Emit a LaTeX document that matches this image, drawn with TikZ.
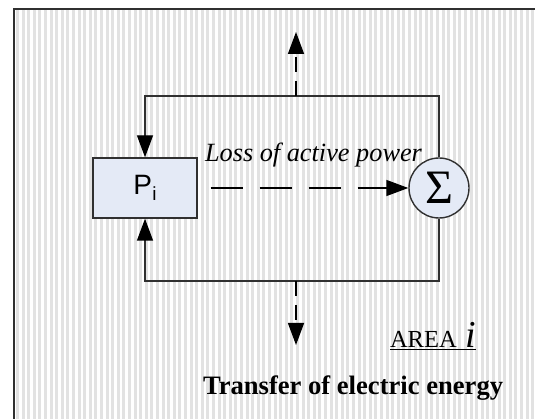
\documentclass[tikz,border=0pt]{standalone}
\usepackage{fontspec}
\setmainfont{Liberation Serif}
\newfontfamily\arialfont{Liberation Sans}
\usetikzlibrary{arrows.meta}
\definecolor{stripegray}{HTML}{E2E2E2}
\definecolor{boxfill}{HTML}{E4EAF6}
\definecolor{linegray}{HTML}{303030}
\begin{document}
\begin{tikzpicture}[x=1pt,y=-1pt,
  conn/.style={draw=linegray, line width=1.4pt},
  tipA/.style={-{Triangle[length=22pt,width=16pt,color=black,fill=black]}},
  dashA/.style={dash pattern=on 15pt off 9pt},
  dashB/.style={dash pattern=on 32pt off 17pt},
  blockbox/.style={draw=linegray, line width=1.4pt, fill=boxfill, rectangle, minimum width=104pt, minimum height=60pt, inner sep=0pt},
  sumcirc/.style={draw=linegray, line width=1.4pt, fill=boxfill, circle, minimum size=60pt, inner sep=0pt},
  lbl/.style={inner sep=0pt, outer sep=0pt}
]
\useasboundingbox (0,0) rectangle (535,419);
% striped background
\fill[white] (0,0) rectangle (535,419);
\foreach \k in {0,...,93} {
  \fill[stripegray] ({16+5.6*\k},9) rectangle ({18.9+5.6*\k},419);
}
% frame
\draw[linegray, line width=2.2pt] (14,425) -- (14,9) -- (540,9);

% nodes
\node[blockbox] (P) at (145,188) {\arialfont\fontsize{28}{28}\selectfont P\kern0.5pt\raisebox{-6pt}{\fontsize{19}{19}\selectfont i}};
\node[sumcirc] (S) at (439,188) {\fontsize{48}{48}\selectfont Σ};

\coordinate (tl) at (145,96);
\coordinate (tr) at (439,96);
\coordinate (bl) at (145,281);
\coordinate (br) at (439,281);
\coordinate (tm) at (296,96);
\coordinate (bm) at (296,281);
\coordinate (upend) at (296,32);
\coordinate (downend) at (296,345);

% loop connectors
\draw[conn, tipA] (S.north) -- (tr) -- (tl) -- (P.north);
\draw[conn, tipA] (S.south) -- (br) -- (bl) -- (P.south);

% dashed arrows
\draw[conn, draw=black, tipA, dashB, shorten <=13pt] (P.east) -- (S.west);
\draw[conn, draw=black, tipA, dashA] (tm) -- (upend);
\draw[conn, draw=black, tipA, dashA] (bm) -- (downend);

% labels
\node[lbl, anchor=base west] (loss) at (205,162) {\fontsize{26.3}{26}\selectfont\itshape Loss of active power};
\node[lbl, anchor=base west] (area) at (390,348) {\fontsize{24.5}{24}\selectfont\underline{AREA\hspace{9pt}{\fontsize{38}{38}\selectfont\itshape i}}};
\node[lbl, anchor=base west] (transfer) at (203,394) {\fontsize{26.6}{26}\selectfont\bfseries Transfer of electric energy};
\end{tikzpicture}
\end{document}
